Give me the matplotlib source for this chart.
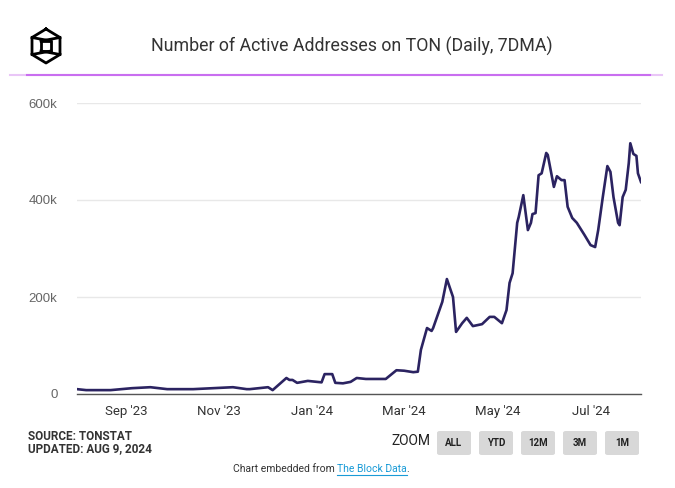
import matplotlib
matplotlib.use("Agg")
import matplotlib.pyplot as plt
from matplotlib.patches import FancyBboxPatch
import numpy as np
import pandas as pd

plt.rcParams['font.family'] = ['Roboto', 'DejaVu Sans']

# daily active addresses, 7-day moving average (thousands)
dates = ['2023-07-31', '2023-08-06', '2023-08-22', '2023-09-05', '2023-09-17',
         '2023-09-28', '2023-10-15', '2023-10-28', '2023-11-10', '2023-11-19',
         '2023-11-21', '2023-12-03', '2023-12-06', '2023-12-15', '2023-12-17',
         '2023-12-19', '2023-12-22', '2023-12-29', '2024-01-04', '2024-01-07',
         '2024-01-09', '2024-01-14', '2024-01-16', '2024-01-21', '2024-01-26',
         '2024-01-30', '2024-02-05', '2024-02-10', '2024-02-18', '2024-02-25',
         '2024-03-01', '2024-03-07', '2024-03-10', '2024-03-12', '2024-03-16',
         '2024-03-19', '2024-03-20', '2024-03-26', '2024-03-29', '2024-04-02',
         '2024-04-04', '2024-04-08', '2024-04-11', '2024-04-15', '2024-04-21',
         '2024-04-26', '2024-04-29', '2024-05-04', '2024-05-07', '2024-05-09',
         '2024-05-11', '2024-05-14', '2024-05-15', '2024-05-18', '2024-05-21',
         '2024-05-23', '2024-05-24', '2024-05-26', '2024-05-28', '2024-05-30',
         '2024-06-02', '2024-06-03', '2024-06-07', '2024-06-09', '2024-06-12',
         '2024-06-14', '2024-06-16', '2024-06-19', '2024-06-22', '2024-06-25',
         '2024-06-27', '2024-07-01', '2024-07-04', '2024-07-06', '2024-07-09',
         '2024-07-12', '2024-07-14', '2024-07-16', '2024-07-19', '2024-07-20',
         '2024-07-22', '2024-07-24', '2024-07-26', '2024-07-27', '2024-07-29',
         '2024-07-31', '2024-08-01', '2024-08-03']
active_k = [10, 8, 8, 12, 14,
            10, 10, 12, 14, 10,
            10, 14, 8, 33, 29,
            29, 23, 27, 25, 24,
            41, 41, 23, 22, 25,
            33, 31, 31, 31, 49,
            48, 45, 46, 91, 136,
            130, 136, 190, 237, 200,
            128, 146, 157, 140, 144,
            159, 159, 146, 173, 229,
            249, 353, 365, 410, 338,
            353, 371, 373, 451, 455,
            497, 493, 427, 449, 441,
            441, 386, 363, 353, 338,
            328, 307, 303, 338, 406,
            470, 458, 406, 353, 348,
            406, 421, 476, 517, 495,
            491, 455, 437]

y_ticks = [0, 200000, 400000, 600000]
y_labels = ['0', '200k', '400k', '600k']
x_ticks = ['2023-09-01', '2023-11-01', '2024-01-01', '2024-03-01', '2024-05-01', '2024-07-01']
x_labels = ["Sep '23", "Nov '23", "Jan '24", "Mar '24", "May '24", "Jul '24"]
zoom_buttons = ['ALL', 'YTD', '12M', '3M', '1M']

W, H = 675, 488
fig = plt.figure(figsize=(W / 100, H / 100), dpi=100)
fig.patch.set_facecolor('white')

ax = fig.add_axes([77 / W, 1 - 394 / H, (641 - 77) / W, (394 - 103) / H])
x = pd.to_datetime(dates)
ax.plot(x, np.array(active_k) * 1000, color='#2b2361', lw=1.9, solid_joinstyle='round')

ax.set_ylim(0, 600000)
ax.set_xlim(x[0], x[-1])
ax.set_yticks(y_ticks)
ax.set_yticklabels(y_labels, color='#666666', fontsize=9.5, family=['Liberation Sans', 'DejaVu Sans'])
ax.set_xticks(pd.to_datetime(x_ticks))
ax.set_xticklabels(x_labels, color='#333333', fontsize=9.5)
ax.tick_params(axis='both', length=0)
ax.tick_params(axis='y', pad=14)
ax.tick_params(axis='x', pad=8)
ax.grid(axis='y', color='#e8e8e8', lw=1)
ax.set_axisbelow(True)
for s in ['top', 'right', 'left']:
    ax.spines[s].set_visible(False)
ax.spines['bottom'].set_color('#555555')
ax.spines['bottom'].set_linewidth(1)

# header
fig.text(352 / W, 1 - 46 / H, 'Number of Active Addresses on TON (Daily, 7DMA)',
         ha='center', va='center', fontsize=12.8, color='#333333')
fig.add_artist(plt.Line2D([10 / W, 662 / W], [1 - 75 / H, 1 - 75 / H], color='#e9c6f7', lw=1.5))
fig.add_artist(plt.Line2D([27 / W, 650 / W], [1 - 75 / H, 1 - 75 / H], color='#c96ef0', lw=1.5))

# logo: hexagon with inner cube lines
cx, cy, r = 46, 46, 17
ang = np.deg2rad(np.arange(90, 451, 60))
hx = cx + r * np.cos(ang) * 0.95
hy = cy - r * np.sin(ang)
fig.add_artist(plt.Line2D(hx / W, 1 - hy / H, color='black', lw=2))
ix = [cx - 5, cx + 5, cx + 5, cx - 5, cx - 5]
iy = [cy - 5, cy - 5, cy + 5, cy + 5, cy - 5]
fig.add_artist(plt.Line2D(np.array(ix) / W, 1 - np.array(iy) / H, color='black', lw=2))
for (x0, y0), (x1, y1) in [((cx - 5, cy - 5), (hx[5], hy[5])), ((cx + 5, cy - 5), (hx[1], hy[1])),
                           ((cx - 5, cy + 5), (hx[4], hy[4])), ((cx + 5, cy + 5), (hx[2], hy[2]))]:
    fig.add_artist(plt.Line2D([x0 / W, x1 / W], [1 - y0 / H, 1 - y1 / H], color='black', lw=2))

# footer
fig.text(28 / W, 1 - 436 / H, 'SOURCE: TONSTAT', fontsize=8.5, color='#333333',
         fontweight='bold', va='center')
fig.text(28 / W, 1 - 449 / H, 'UPDATED: AUG 9, 2024', fontsize=8.5, color='#333333',
         fontweight='bold', va='center')
fig.text(430 / W, 1 - 441 / H, 'ZOOM', fontsize=10, color='#222222', ha='right', va='center')
for i, lab in enumerate(zoom_buttons):
    bx = 437 + i * 42
    fig.add_artist(FancyBboxPatch((bx / W, 1 - 455 / H), 34 / W, 24 / H,
                                  boxstyle='round,pad=0,rounding_size=0.004',
                                  transform=fig.transFigure, facecolor='#d8d8d8', edgecolor='none'))
    fig.text((bx + 17) / W, 1 - 443 / H, lab, fontsize=7, fontweight='bold',
             color='#222222', ha='center', va='center')

t1 = fig.text(337 / W, 1 - 469 / H, 'Chart embedded from ', fontsize=7.5, color='#333333',
              ha='right', va='center')
t2 = fig.text(355 / W, 1 - 469 / H, 'The Block Data', fontsize=7.5, color='#1a9bd7',
              ha='left', va='center')
fig.canvas.draw()
r1 = t1.get_window_extent()
t2.set_x(r1.x1 / W)
r2 = t2.get_window_extent()
fig.text(r2.x1 / W, 1 - 469 / H, '.', fontsize=7.5, color='#333333', ha='left', va='center')
fig.add_artist(plt.Line2D([r2.x0 / W, r2.x1 / W], [(r2.y0 - 1) / H, (r2.y0 - 1) / H],
                          color='#1a9bd7', lw=0.8))

fig.savefig('out.png', dpi=100)
